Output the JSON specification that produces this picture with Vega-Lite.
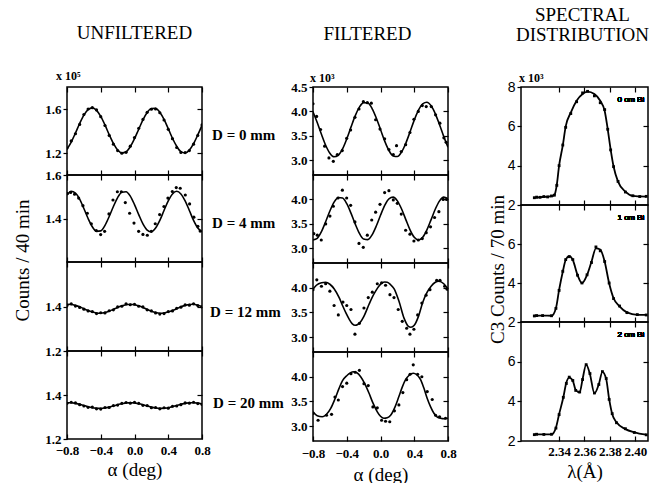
{
"$schema": "https://vega.github.io/schema/vega-lite/v6.json",
"padding": {"left": 13, "top": 5, "right": 2, "bottom": 0},
"background": "white",
"config": {
 "view": {"stroke": "black", "strokeWidth": 1.5},
 "font": "Liberation Serif",
 "axis": {"domain": false, "grid": false, "tickColor": "black", "tickWidth": 1.2, "labelColor": "black", "labelFont": "Liberation Serif", "labelFontWeight": "bold", "labelFontSize": 13, "titleFont": "Liberation Serif", "titleFontWeight": "normal", "titleColor": "black", "titleFontSize": 19, "labelFlush": false, "labelOverlap": false, "labelPadding": 2},
 "title": {"font": "Liberation Serif", "fontWeight": "normal", "fontSize": 19, "color": "black", "lineHeight": 20}
},
"datasets": {
 "L1": [{"a":-0.8,"v":1.235,"d":1.245},{"a":-0.75,"v":1.299,"d":1.31},{"a":-0.7,"v":1.381,"d":1.375},{"a":-0.65,"v":1.468,"d":1.46},{"a":-0.6,"v":1.544,"d":1.55},{"a":-0.55,"v":1.594,"d":1.6},{"a":-0.5,"v":1.61,"d":1.612},{"a":-0.45,"v":1.588,"d":1.592},{"a":-0.4,"v":1.533,"d":1.53},{"a":-0.35,"v":1.455,"d":1.45},{"a":-0.3,"v":1.367,"d":1.36},{"a":-0.25,"v":1.287,"d":1.28},{"a":-0.2,"v":1.227,"d":1.222},{"a":-0.15,"v":1.201,"d":1.198},{"a":-0.1,"v":1.211,"d":1.206},{"a":-0.05,"v":1.257,"d":1.262},{"a":0,"v":1.33,"d":1.34},{"a":0.05,"v":1.416,"d":1.425},{"a":0.1,"v":1.501,"d":1.505},{"a":0.15,"v":1.568,"d":1.57},{"a":0.2,"v":1.605,"d":1.598},{"a":0.25,"v":1.606,"d":1.6},{"a":0.3,"v":1.571,"d":1.566},{"a":0.35,"v":1.505,"d":1.5},{"a":0.4,"v":1.421,"d":1.415},{"a":0.45,"v":1.334,"d":1.33},{"a":0.5,"v":1.261,"d":1.25},{"a":0.55,"v":1.212,"d":1.205},{"a":0.6,"v":1.2,"d":1.204},{"a":0.65,"v":1.226,"d":1.222},{"a":0.7,"v":1.285,"d":1.28},{"a":0.75,"v":1.364,"d":1.36},{"a":0.8,"v":1.451,"d":1.455}],
 "L2c": [{"a":-0.8,"v":1.508},{"a":-0.75,"v":1.525},{"a":-0.7,"v":1.517},{"a":-0.65,"v":1.489},{"a":-0.6,"v":1.446},{"a":-0.55,"v":1.4},{"a":-0.5,"v":1.362},{"a":-0.45,"v":1.341},{"a":-0.4,"v":1.343},{"a":-0.35,"v":1.368},{"a":-0.3,"v":1.409},{"a":-0.25,"v":1.455},{"a":-0.2,"v":1.496},{"a":-0.15,"v":1.521},{"a":-0.1,"v":1.523},{"a":-0.05,"v":1.503},{"a":0,"v":1.464},{"a":0.05,"v":1.418},{"a":0.1,"v":1.375},{"a":0.15,"v":1.347},{"a":0.2,"v":1.339},{"a":0.25,"v":1.356},{"a":0.3,"v":1.391},{"a":0.35,"v":1.437},{"a":0.4,"v":1.481},{"a":0.45,"v":1.513},{"a":0.5,"v":1.525},{"a":0.55,"v":1.513},{"a":0.6,"v":1.481},{"a":0.65,"v":1.437},{"a":0.7,"v":1.391},{"a":0.75,"v":1.356},{"a":0.8,"v":1.339}],
 "L2p": [{"a":-0.795,"d":1.515},{"a":-0.757,"d":1.52},{"a":-0.71,"d":1.512},{"a":-0.662,"d":1.494},{"a":-0.611,"d":1.459},{"a":-0.559,"d":1.424},{"a":-0.512,"d":1.376},{"a":-0.453,"d":1.345},{"a":-0.401,"d":1.326},{"a":-0.354,"d":1.341},{"a":-0.303,"d":1.421},{"a":-0.255,"d":1.485},{"a":-0.203,"d":1.523},{"a":-0.156,"d":1.523},{"a":-0.109,"d":1.473},{"a":-0.058,"d":1.424},{"a":-0.006,"d":1.379},{"a":0.049,"d":1.341},{"a":0.1,"d":1.327},{"a":0.152,"d":1.323},{"a":0.199,"d":1.341},{"a":0.246,"d":1.376},{"a":0.298,"d":1.418},{"a":0.349,"d":1.455},{"a":0.396,"d":1.494},{"a":0.448,"d":1.524},{"a":0.495,"d":1.542},{"a":0.542,"d":1.539},{"a":0.602,"d":1.508},{"a":0.653,"d":1.467},{"a":0.704,"d":1.406},{"a":0.751,"d":1.364},{"a":0.778,"d":1.342}],
 "L3": [{"a":-0.8,"v":1.41,"d":1.405},{"a":-0.75,"v":1.409,"d":1.412},{"a":-0.7,"v":1.405,"d":1.402},{"a":-0.65,"v":1.399,"d":1.396},{"a":-0.6,"v":1.39,"d":1.388},{"a":-0.55,"v":1.382,"d":1.38},{"a":-0.5,"v":1.375,"d":1.377},{"a":-0.45,"v":1.371,"d":1.368},{"a":-0.4,"v":1.37,"d":1.372},{"a":-0.35,"v":1.373,"d":1.371},{"a":-0.3,"v":1.379,"d":1.381},{"a":-0.25,"v":1.387,"d":1.385},{"a":-0.2,"v":1.396,"d":1.398},{"a":-0.15,"v":1.403,"d":1.401},{"a":-0.1,"v":1.408,"d":1.412},{"a":-0.05,"v":1.41,"d":1.408},{"a":0,"v":1.408,"d":1.41},{"a":0.05,"v":1.403,"d":1.401},{"a":0.1,"v":1.396,"d":1.398},{"a":0.15,"v":1.387,"d":1.385},{"a":0.2,"v":1.379,"d":1.38},{"a":0.25,"v":1.373,"d":1.371},{"a":0.3,"v":1.37,"d":1.366},{"a":0.35,"v":1.371,"d":1.368},{"a":0.4,"v":1.375,"d":1.377},{"a":0.45,"v":1.382,"d":1.38},{"a":0.5,"v":1.39,"d":1.392},{"a":0.55,"v":1.399,"d":1.397},{"a":0.6,"v":1.405,"d":1.407},{"a":0.65,"v":1.409,"d":1.406},{"a":0.7,"v":1.41,"d":1.412},{"a":0.75,"v":1.406,"d":1.404},{"a":0.8,"v":1.4,"d":1.398}],
 "L4": [{"a":-0.8,"v":1.365,"d":1.362},{"a":-0.75,"v":1.365,"d":1.367},{"a":-0.7,"v":1.362,"d":1.364},{"a":-0.65,"v":1.358,"d":1.356},{"a":-0.6,"v":1.352,"d":1.35},{"a":-0.55,"v":1.347,"d":1.344},{"a":-0.5,"v":1.342,"d":1.345},{"a":-0.45,"v":1.34,"d":1.337},{"a":-0.4,"v":1.339,"d":1.336},{"a":-0.35,"v":1.341,"d":1.343},{"a":-0.3,"v":1.345,"d":1.343},{"a":-0.25,"v":1.35,"d":1.352},{"a":-0.2,"v":1.356,"d":1.354},{"a":-0.15,"v":1.36,"d":1.362},{"a":-0.1,"v":1.364,"d":1.366},{"a":-0.05,"v":1.365,"d":1.363},{"a":0,"v":1.364,"d":1.367},{"a":0.05,"v":1.36,"d":1.362},{"a":0.1,"v":1.356,"d":1.353},{"a":0.15,"v":1.35,"d":1.352},{"a":0.2,"v":1.345,"d":1.342},{"a":0.25,"v":1.341,"d":1.343},{"a":0.3,"v":1.339,"d":1.337},{"a":0.35,"v":1.34,"d":1.342},{"a":0.4,"v":1.342,"d":1.34},{"a":0.45,"v":1.347,"d":1.349},{"a":0.5,"v":1.352,"d":1.35},{"a":0.55,"v":1.358,"d":1.356},{"a":0.6,"v":1.362,"d":1.364},{"a":0.65,"v":1.365,"d":1.363},{"a":0.7,"v":1.365,"d":1.367},{"a":0.75,"v":1.363,"d":1.361},{"a":0.8,"v":1.359,"d":1.357}],
 "M1c": [{"a":-0.8,"v":3.99},{"a":-0.75,"v":3.775},{"a":-0.7,"v":3.533},{"a":-0.65,"v":3.309},{"a":-0.6,"v":3.145},{"a":-0.55,"v":3.072},{"a":-0.5,"v":3.104},{"a":-0.45,"v":3.234},{"a":-0.4,"v":3.438},{"a":-0.35,"v":3.679},{"a":-0.3,"v":3.91},{"a":-0.25,"v":4.089},{"a":-0.2,"v":4.181},{"a":-0.15,"v":4.171},{"a":-0.1,"v":4.059},{"a":-0.05,"v":3.867},{"a":0,"v":3.63},{"a":0.05,"v":3.393},{"a":0.1,"v":3.201},{"a":0.15,"v":3.089},{"a":0.2,"v":3.078},{"a":0.25,"v":3.171},{"a":0.3,"v":3.35},{"a":0.35,"v":3.581},{"a":0.4,"v":3.822},{"a":0.45,"v":4.026},{"a":0.5,"v":4.156},{"a":0.55,"v":4.188},{"a":0.6,"v":4.115},{"a":0.65,"v":3.951},{"a":0.7,"v":3.727},{"a":0.75,"v":3.485},{"a":0.8,"v":3.27}],
 "M1p": [{"a":-0.8,"d":4.157},{"a":-0.757,"d":3.898},{"a":-0.71,"d":3.63},{"a":-0.662,"d":3.29},{"a":-0.611,"d":3.05},{"a":-0.559,"d":2.98},{"a":-0.512,"d":3.12},{"a":-0.453,"d":3.2},{"a":-0.401,"d":3.45},{"a":-0.354,"d":3.62},{"a":-0.303,"d":3.88},{"a":-0.255,"d":4.05},{"a":-0.203,"d":4.2},{"a":-0.156,"d":4.18},{"a":-0.109,"d":4.17},{"a":-0.058,"d":3.83},{"a":-0.006,"d":3.64},{"a":0.049,"d":3.44},{"a":0.1,"d":3.22},{"a":0.152,"d":3.12},{"a":0.19,"d":3.3},{"a":0.246,"d":3.18},{"a":0.298,"d":3.32},{"a":0.349,"d":3.57},{"a":0.396,"d":3.84},{"a":0.448,"d":4.0},{"a":0.495,"d":4.12},{"a":0.542,"d":4.1},{"a":0.602,"d":4.1},{"a":0.653,"d":3.93},{"a":0.704,"d":3.76},{"a":0.751,"d":3.46},{"a":0.778,"d":3.37}],
 "M2c": [{"a":-0.8,"v":3.172},{"a":-0.75,"v":3.206},{"a":-0.7,"v":3.341},{"a":-0.65,"v":3.544},{"a":-0.6,"v":3.763},{"a":-0.55,"v":3.944},{"a":-0.5,"v":4.041},{"a":-0.45,"v":4.03},{"a":-0.4,"v":3.913},{"a":-0.35,"v":3.72},{"a":-0.3,"v":3.5},{"a":-0.25,"v":3.307},{"a":-0.2,"v":3.191},{"a":-0.15,"v":3.179},{"a":-0.1,"v":3.276},{"a":-0.05,"v":3.457},{"a":0,"v":3.676},{"a":0.05,"v":3.879},{"a":0.1,"v":4.014},{"a":0.15,"v":4.048},{"a":0.2,"v":3.971},{"a":0.25,"v":3.804},{"a":0.3,"v":3.588},{"a":0.35,"v":3.377},{"a":0.4,"v":3.225},{"a":0.45,"v":3.17},{"a":0.5,"v":3.225},{"a":0.55,"v":3.377},{"a":0.6,"v":3.588},{"a":0.65,"v":3.804},{"a":0.7,"v":3.971},{"a":0.75,"v":4.048},{"a":0.8,"v":4.014}],
 "M2p": [{"a":-0.79,"d":3.3},{"a":-0.749,"d":3.27},{"a":-0.702,"d":3.17},{"a":-0.65,"d":3.5},{"a":-0.599,"d":3.66},{"a":-0.559,"d":3.86},{"a":-0.504,"d":4.03},{"a":-0.452,"d":4.19},{"a":-0.401,"d":4.03},{"a":-0.354,"d":3.88},{"a":-0.303,"d":3.54},{"a":-0.255,"d":3.1},{"a":-0.204,"d":3.02},{"a":-0.156,"d":3.27},{"a":-0.104,"d":3.58},{"a":-0.058,"d":3.74},{"a":-0.006,"d":3.9},{"a":0.049,"d":4.14},{"a":0.1,"d":4.18},{"a":0.152,"d":3.99},{"a":0.199,"d":3.92},{"a":0.246,"d":3.7},{"a":0.298,"d":3.37},{"a":0.349,"d":3.29},{"a":0.396,"d":3.15},{"a":0.448,"d":3.17},{"a":0.495,"d":3.2},{"a":0.542,"d":3.32},{"a":0.593,"d":3.44},{"a":0.641,"d":3.63},{"a":0.692,"d":3.75},{"a":0.743,"d":4.0},{"a":0.783,"d":4.0}],
 "M3c": [{"a":-0.8,"v":3.97},{"a":-0.76,"v":4.05},{"a":-0.7,"v":4.1},{"a":-0.65,"v":4.11},{"a":-0.6,"v":4.07},{"a":-0.55,"v":3.98},{"a":-0.49,"v":3.8},{"a":-0.45,"v":3.64},{"a":-0.41,"v":3.49},{"a":-0.37,"v":3.36},{"a":-0.334,"v":3.27},{"a":-0.3,"v":3.24},{"a":-0.275,"v":3.25},{"a":-0.24,"v":3.3},{"a":-0.2,"v":3.41},{"a":-0.137,"v":3.66},{"a":-0.1,"v":3.8},{"a":-0.058,"v":3.93},{"a":-0.02,"v":4.03},{"a":0.021,"v":4.1},{"a":0.05,"v":4.115},{"a":0.08,"v":4.11},{"a":0.12,"v":4.06},{"a":0.16,"v":3.98},{"a":0.22,"v":3.72},{"a":0.28,"v":3.38},{"a":0.33,"v":3.22},{"a":0.36,"v":3.2},{"a":0.4,"v":3.24},{"a":0.45,"v":3.42},{"a":0.5,"v":3.7},{"a":0.55,"v":3.9},{"a":0.6,"v":4.03},{"a":0.65,"v":4.11},{"a":0.69,"v":4.13},{"a":0.75,"v":4.08},{"a":0.8,"v":3.97}],
 "M3p": [{"a":-0.8,"d":3.96},{"a":-0.755,"d":4.16},{"a":-0.7,"d":4.03},{"a":-0.65,"d":4.08},{"a":-0.6,"d":3.93},{"a":-0.55,"d":3.64},{"a":-0.5,"d":3.45},{"a":-0.445,"d":3.71},{"a":-0.4,"d":3.64},{"a":-0.35,"d":3.56},{"a":-0.303,"d":3.06},{"a":-0.25,"d":3.28},{"a":-0.196,"d":3.59},{"a":-0.145,"d":3.8},{"a":-0.097,"d":3.91},{"a":-0.038,"d":4.08},{"a":0.013,"d":4.1},{"a":0.06,"d":4.05},{"a":0.112,"d":3.86},{"a":0.16,"d":3.8},{"a":0.21,"d":3.56},{"a":0.258,"d":3.32},{"a":0.31,"d":3.18},{"a":0.349,"d":3.06},{"a":0.396,"d":3.16},{"a":0.44,"d":3.45},{"a":0.49,"d":3.69},{"a":0.54,"d":3.85},{"a":0.586,"d":3.96},{"a":0.666,"d":4.15},{"a":0.705,"d":4.15},{"a":0.76,"d":4.03},{"a":0.79,"d":3.97}],
 "M4c": [{"a":-0.8,"v":3.29},{"a":-0.75,"v":3.21},{"a":-0.69,"v":3.19},{"a":-0.64,"v":3.24},{"a":-0.59,"v":3.36},{"a":-0.54,"v":3.55},{"a":-0.49,"v":3.77},{"a":-0.45,"v":3.92},{"a":-0.4,"v":4.02},{"a":-0.32,"v":4.1},{"a":-0.28,"v":4.08},{"a":-0.235,"v":4.0},{"a":-0.19,"v":3.87},{"a":-0.137,"v":3.67},{"a":-0.09,"v":3.47},{"a":-0.038,"v":3.29},{"a":0,"v":3.2},{"a":0.04,"v":3.16},{"a":0.08,"v":3.17},{"a":0.12,"v":3.22},{"a":0.17,"v":3.38},{"a":0.218,"v":3.6},{"a":0.26,"v":3.8},{"a":0.297,"v":3.94},{"a":0.34,"v":4.03},{"a":0.388,"v":4.07},{"a":0.43,"v":4.04},{"a":0.475,"v":3.94},{"a":0.514,"v":3.77},{"a":0.554,"v":3.56},{"a":0.594,"v":3.39},{"a":0.633,"v":3.26},{"a":0.67,"v":3.19},{"a":0.71,"v":3.16},{"a":0.76,"v":3.15},{"a":0.8,"v":3.16}],
 "M4p": [{"a":-0.8,"d":3.26},{"a":-0.74,"d":3.12},{"a":-0.64,"d":3.22},{"a":-0.58,"d":3.24},{"a":-0.54,"d":3.59},{"a":-0.5,"d":3.53},{"a":-0.45,"d":3.8},{"a":-0.4,"d":3.87},{"a":-0.35,"d":4.06},{"a":-0.3,"d":4.09},{"a":-0.25,"d":4.13},{"a":-0.196,"d":3.86},{"a":-0.145,"d":3.82},{"a":-0.09,"d":3.39},{"a":-0.038,"d":3.37},{"a":0.013,"d":3.12},{"a":0.06,"d":3.1},{"a":0.11,"d":3.09},{"a":0.165,"d":3.31},{"a":0.218,"d":3.43},{"a":0.265,"d":3.68},{"a":0.31,"d":3.94},{"a":0.35,"d":4.05},{"a":0.388,"d":4.24},{"a":0.44,"d":4.05},{"a":0.49,"d":4.0},{"a":0.554,"d":3.7},{"a":0.613,"d":3.54},{"a":0.653,"d":3.22},{"a":0.7,"d":3.19},{"a":0.77,"d":3.16}],
 "R1": [{"l":2.3205,"v":2.38,"d":2.37},{"l":2.3223,"v":2.38,"d":2.4},{"l":2.325,"v":2.4,"d":2.39},{"l":2.328,"v":2.41,"d":2.43},{"l":2.331,"v":2.42,"d":2.41},{"l":2.334,"v":2.45,"d":2.46},{"l":2.3363,"v":2.51,"d":2.5},{"l":2.3382,"v":3.03,"d":3.0},{"l":2.34,"v":4.0,"d":4.0},{"l":2.3429,"v":5.03,"d":5.05},{"l":2.3452,"v":6.0,"d":5.95},{"l":2.3492,"v":6.7,"d":6.65},{"l":2.3538,"v":7.3,"d":7.25},{"l":2.3585,"v":7.64,"d":7.7},{"l":2.3624,"v":7.76,"d":7.78},{"l":2.3678,"v":7.64,"d":7.55},{"l":2.3724,"v":7.3,"d":7.2},{"l":2.3759,"v":6.78,"d":6.85},{"l":2.3783,"v":5.85,"d":5.85},{"l":2.3806,"v":4.82,"d":4.8},{"l":2.3829,"v":3.96,"d":3.95},{"l":2.3864,"v":3.19,"d":3.2},{"l":2.3922,"v":2.68,"d":2.66},{"l":2.3981,"v":2.46,"d":2.47},{"l":2.4035,"v":2.44,"d":2.43},{"l":2.4086,"v":2.43,"d":2.44}],
 "R2": [{"l":2.3205,"v":2.32,"d":2.31},{"l":2.3223,"v":2.32,"d":2.33},{"l":2.327,"v":2.33,"d":2.33},{"l":2.334,"v":2.32,"d":2.32},{"l":2.3375,"v":2.71,"d":2.7},{"l":2.34,"v":3.65,"d":3.62},{"l":2.3429,"v":4.58,"d":4.6},{"l":2.3452,"v":5.18,"d":5.2},{"l":2.348,"v":5.38,"d":5.35},{"l":2.3508,"v":5.18,"d":5.2},{"l":2.3545,"v":4.41,"d":4.4},{"l":2.358,"v":3.99,"d":4.0},{"l":2.362,"v":4.41,"d":4.42},{"l":2.3655,"v":5.09,"d":5.05},{"l":2.369,"v":5.78,"d":5.85},{"l":2.3724,"v":5.72,"d":5.65},{"l":2.3759,"v":5.09,"d":5.1},{"l":2.3794,"v":3.99,"d":4.0},{"l":2.3829,"v":3.22,"d":3.2},{"l":2.3876,"v":2.8,"d":2.82},{"l":2.3934,"v":2.49,"d":2.48},{"l":2.4016,"v":2.37,"d":2.38},{"l":2.4086,"v":2.37,"d":2.36}],
 "R3": [{"l":2.3205,"v":2.33,"d":2.32},{"l":2.3223,"v":2.33,"d":2.34},{"l":2.328,"v":2.33,"d":2.33},{"l":2.334,"v":2.33,"d":2.34},{"l":2.3375,"v":2.67,"d":2.65},{"l":2.34,"v":3.35,"d":3.33},{"l":2.3433,"v":4.19,"d":4.2},{"l":2.3457,"v":4.95,"d":4.9},{"l":2.348,"v":5.2,"d":5.22},{"l":2.3508,"v":5.04,"d":5.05},{"l":2.3531,"v":4.57,"d":4.55},{"l":2.3562,"v":4.45,"d":4.47},{"l":2.3585,"v":5.12,"d":5.1},{"l":2.3613,"v":5.85,"d":5.85},{"l":2.3643,"v":5.37,"d":5.4},{"l":2.3678,"v":4.4,"d":4.42},{"l":2.3713,"v":4.87,"d":4.85},{"l":2.3741,"v":5.49,"d":5.5},{"l":2.3771,"v":5.12,"d":5.15},{"l":2.3794,"v":4.12,"d":4.1},{"l":2.3818,"v":3.36,"d":3.38},{"l":2.3852,"v":2.94,"d":2.92},{"l":2.3922,"v":2.6,"d":2.62},{"l":2.3992,"v":2.44,"d":2.43},{"l":2.4086,"v":2.32,"d":2.31}]
},
"hconcat": [
 {"spacing": 6, "hconcat": [
  {"title": {"text": "UNFILTERED", "offset": 27, "anchor": "middle", "dx": -14},
   "spacing": 0, "bounds": "flush",
   "vconcat": [
      {"width": 135, "height": 88,
       "title": {"text": "x 10⁵", "anchor": "start", "frame": "group", "dx": -11, "offset": 3, "fontSize": 12, "fontWeight": "bold"},
       "data": {"name": "L1"},
       "layer": [
        {"mark": {"type": "circle", "size": 10, "color": "black", "opacity": 1, "clip": true},
         "encoding": {"x": {"field": "a", "type": "quantitative", "scale": {"domain": [-0.8, 0.8]}, "axis": {"orient": "bottom", "values": [-0.8, -0.4, 0, 0.4, 0.8], "labels": false, "tickSize": -5, "title": null}},
                      "y": {"field": "d", "type": "quantitative", "scale": {"domain": [1.0, 1.8]}, "axis": {"orient": "left", "values": [1.2, 1.6], "format": ".1f", "tickSize": 4, "title": null}}}},
        {"mark": {"type": "line", "color": "black", "strokeWidth": 1.6, "interpolate": "monotone", "clip": true},
         "encoding": {"x": {"field": "a", "type": "quantitative", "scale": {"domain": [-0.8, 0.8]}, "axis": {"orient": "top", "values": [-0.8, -0.4, 0, 0.4, 0.8], "labels": false, "tickSize": -5, "title": null}},
                      "y": {"field": "v", "type": "quantitative", "scale": {"domain": [1.0, 1.8]}, "axis": {"orient": "right", "values": [1.2, 1.6], "labels": false, "tickSize": -5, "title": "D = 0 mm", "titleAngle": 0, "titleAlign": "left", "titleBaseline": "middle", "titlePadding": 9, "titleFontSize": 15, "titleFontWeight": "bold", "titleY": 47}}}}
       ],
       "resolve": {"axis": {"x": "independent", "y": "independent"}}},
      {"width": 135, "height": 87,
       "layer": [
        {"data": {"name": "L2p"}, "mark": {"type": "circle", "size": 10, "color": "black", "opacity": 1, "clip": true},
         "encoding": {"x": {"field": "a", "type": "quantitative", "scale": {"domain": [-0.8, 0.8]}, "axis": {"orient": "bottom", "values": [-0.8, -0.4, 0, 0.4, 0.8], "labels": false, "tickSize": -5, "title": null}},
                      "y": {"field": "d", "type": "quantitative", "scale": {"domain": [1.2, 1.6]}, "axis": {"orient": "left", "values": [1.4, 1.6], "format": ".1f", "tickSize": 4, "title": "Counts / 40 min", "titleY": 85, "titlePadding": 12}}}},
        {"data": {"name": "L2c"}, "mark": {"type": "line", "color": "black", "strokeWidth": 1.6, "interpolate": "monotone", "clip": true},
         "encoding": {"x": {"field": "a", "type": "quantitative", "scale": {"domain": [-0.8, 0.8]}, "axis": {"orient": "top", "values": [-0.8, -0.4, 0, 0.4, 0.8], "labels": false, "tickSize": -5, "title": null}},
                      "y": {"field": "v", "type": "quantitative", "scale": {"domain": [1.2, 1.6]}, "axis": {"orient": "right", "values": [1.4], "labels": false, "tickSize": -5, "title": "D = 4 mm", "titleAngle": 0, "titleAlign": "left", "titleBaseline": "middle", "titlePadding": 9, "titleFontSize": 15, "titleFontWeight": "bold", "titleY": 47}}}}
       ],
       "resolve": {"axis": {"x": "independent", "y": "independent"}}},
      {"width": 135, "height": 89,
       "data": {"name": "L3"},
       "layer": [
        {"mark": {"type": "circle", "size": 10, "color": "black", "opacity": 1, "clip": true},
         "encoding": {"x": {"field": "a", "type": "quantitative", "scale": {"domain": [-0.8, 0.8]}, "axis": {"orient": "bottom", "values": [-0.8, -0.4, 0, 0.4, 0.8], "labels": false, "tickSize": -5, "title": null}},
                      "y": {"field": "d", "type": "quantitative", "scale": {"domain": [1.2, 1.6]}, "axis": {"orient": "left", "values": [1.2, 1.4], "format": ".1f", "tickSize": 4, "title": null}}}},
        {"mark": {"type": "line", "color": "black", "strokeWidth": 1.6, "interpolate": "monotone", "clip": true},
         "encoding": {"x": {"field": "a", "type": "quantitative", "scale": {"domain": [-0.8, 0.8]}, "axis": {"orient": "top", "values": [-0.8, -0.4, 0, 0.4, 0.8], "labels": false, "tickSize": -5, "title": null}},
                      "y": {"field": "v", "type": "quantitative", "scale": {"domain": [1.2, 1.6]}, "axis": {"orient": "right", "values": [1.4], "labels": false, "tickSize": -5, "title": "D = 12 mm", "titleAngle": 0, "titleAlign": "left", "titleBaseline": "middle", "titlePadding": 7, "titleFontSize": 15, "titleFontWeight": "bold", "titleY": 49}}}}
       ],
       "resolve": {"axis": {"x": "independent", "y": "independent"}}},
      {"width": 135, "height": 88,
       "data": {"name": "L4"},
       "layer": [
        {"mark": {"type": "circle", "size": 10, "color": "black", "opacity": 1, "clip": true},
         "encoding": {"x": {"field": "a", "type": "quantitative", "scale": {"domain": [-0.8, 0.8]}, "axis": {"orient": "bottom", "values": [-0.8, -0.4, 0, 0.4, 0.8], "format": ".1f", "tickSize": -5, "labelPadding": 10, "title": "α (deg)", "titlePadding": 3}},
                      "y": {"field": "d", "type": "quantitative", "scale": {"domain": [1.2, 1.6]}, "axis": {"orient": "left", "values": [1.2, 1.4], "format": ".1f", "tickSize": 4, "title": null}}}},
        {"mark": {"type": "line", "color": "black", "strokeWidth": 1.6, "interpolate": "monotone", "clip": true},
         "encoding": {"x": {"field": "a", "type": "quantitative", "scale": {"domain": [-0.8, 0.8]}, "axis": {"orient": "top", "values": [-0.8, -0.4, 0, 0.4, 0.8], "labels": false, "tickSize": -5, "title": null}},
                      "y": {"field": "v", "type": "quantitative", "scale": {"domain": [1.2, 1.6]}, "axis": {"orient": "right", "values": [1.4], "labels": false, "tickSize": -5, "title": "D = 20 mm", "titleAngle": 0, "titleAlign": "left", "titleBaseline": "middle", "titlePadding": 10, "titleFontSize": 15, "titleFontWeight": "bold", "titleY": 51}}}}
       ],
       "resolve": {"axis": {"x": "independent", "y": "independent"}}}
   ]},
  {"title": {"text": "FILTERED", "offset": 27, "anchor": "middle", "dx": -6},
   "spacing": 0, "bounds": "flush",
   "vconcat": [
    {"width": 135, "height": 88,
     "title": {"text": "x 10³", "anchor": "start", "frame": "group", "dx": -3, "offset": -3.5, "fontSize": 12, "fontWeight": "bold"},
     "layer": [
      {"data": {"name": "M1p"}, "mark": {"type": "circle", "size": 10, "color": "black", "opacity": 1, "clip": true},
       "encoding": {"x": {"field": "a", "type": "quantitative", "scale": {"domain": [-0.8, 0.8]}, "axis": {"orient": "bottom", "values": [-0.8, -0.4, 0, 0.4, 0.8], "labels": false, "tickSize": -5, "title": null}},
                    "y": {"field": "d", "type": "quantitative", "scale": {"domain": [2.7, 4.5]}, "axis": {"orient": "left", "values": [3.0, 3.5, 4.0, 4.5], "format": ".1f", "tickSize": 4, "title": null}}}},
      {"data": {"name": "M1c"}, "mark": {"type": "line", "color": "black", "strokeWidth": 1.6, "interpolate": "monotone", "clip": true},
       "encoding": {"x": {"field": "a", "type": "quantitative", "scale": {"domain": [-0.8, 0.8]}, "axis": {"orient": "top", "values": [-0.8, -0.4, 0, 0.4, 0.8], "labels": false, "tickSize": -5, "title": null}},
                    "y": {"field": "v", "type": "quantitative", "scale": {"domain": [2.7, 4.5]}, "axis": {"orient": "right", "values": [3.0, 3.5, 4.0], "labels": false, "tickSize": -5, "title": null}}}}
     ],
     "resolve": {"axis": {"x": "independent", "y": "independent"}}},
    {"width": 135, "height": 88,
     "layer": [
      {"data": {"name": "M2p"}, "mark": {"type": "circle", "size": 10, "color": "black", "opacity": 1, "clip": true},
       "encoding": {"x": {"field": "a", "type": "quantitative", "scale": {"domain": [-0.8, 0.8]}, "axis": {"orient": "bottom", "values": [-0.8, -0.4, 0, 0.4, 0.8], "labels": false, "tickSize": -5, "title": null}},
                    "y": {"field": "d", "type": "quantitative", "scale": {"domain": [2.7, 4.5]}, "axis": {"orient": "left", "values": [3.0, 3.5, 4.0], "format": ".1f", "tickSize": 4, "title": null}}}},
      {"data": {"name": "M2c"}, "mark": {"type": "line", "color": "black", "strokeWidth": 1.6, "interpolate": "monotone", "clip": true},
       "encoding": {"x": {"field": "a", "type": "quantitative", "scale": {"domain": [-0.8, 0.8]}, "axis": {"orient": "top", "values": [-0.8, -0.4, 0, 0.4, 0.8], "labels": false, "tickSize": -5, "title": null}},
                    "y": {"field": "v", "type": "quantitative", "scale": {"domain": [2.7, 4.5]}, "axis": {"orient": "right", "values": [3.0, 3.5, 4.0], "labels": false, "tickSize": -5, "title": null}}}}
     ],
     "resolve": {"axis": {"x": "independent", "y": "independent"}}},
    {"width": 135, "height": 89,
     "layer": [
      {"data": {"name": "M3p"}, "mark": {"type": "circle", "size": 10, "color": "black", "opacity": 1, "clip": true},
       "encoding": {"x": {"field": "a", "type": "quantitative", "scale": {"domain": [-0.8, 0.8]}, "axis": {"orient": "bottom", "values": [-0.8, -0.4, 0, 0.4, 0.8], "labels": false, "tickSize": -5, "title": null}},
                    "y": {"field": "d", "type": "quantitative", "scale": {"domain": [2.7, 4.5]}, "axis": {"orient": "left", "values": [3.0, 3.5, 4.0], "format": ".1f", "tickSize": 4, "title": null}}}},
      {"data": {"name": "M3c"}, "mark": {"type": "line", "color": "black", "strokeWidth": 1.6, "interpolate": "monotone", "clip": true},
       "encoding": {"x": {"field": "a", "type": "quantitative", "scale": {"domain": [-0.8, 0.8]}, "axis": {"orient": "top", "values": [-0.8, -0.4, 0, 0.4, 0.8], "labels": false, "tickSize": -5, "title": null}},
                    "y": {"field": "v", "type": "quantitative", "scale": {"domain": [2.7, 4.5]}, "axis": {"orient": "right", "values": [3.0, 3.5, 4.0], "labels": false, "tickSize": -5, "title": null}}}}
     ],
     "resolve": {"axis": {"x": "independent", "y": "independent"}}},
    {"width": 135, "height": 89,
     "layer": [
      {"data": {"name": "M4p"}, "mark": {"type": "circle", "size": 10, "color": "black", "opacity": 1, "clip": true},
       "encoding": {"x": {"field": "a", "type": "quantitative", "scale": {"domain": [-0.8, 0.8]}, "axis": {"orient": "bottom", "values": [-0.8, -0.4, 0, 0.4, 0.8], "format": ".1f", "tickSize": -5, "labelPadding": 11, "title": "α (deg)", "titlePadding": 5}},
                    "y": {"field": "d", "type": "quantitative", "scale": {"domain": [2.7, 4.5]}, "axis": {"orient": "left", "values": [3.0, 3.5, 4.0], "format": ".1f", "tickSize": 4, "title": null}}}},
      {"data": {"name": "M4c"}, "mark": {"type": "line", "color": "black", "strokeWidth": 1.6, "interpolate": "monotone", "clip": true},
       "encoding": {"x": {"field": "a", "type": "quantitative", "scale": {"domain": [-0.8, 0.8]}, "axis": {"orient": "top", "values": [-0.8, -0.4, 0, 0.4, 0.8], "labels": false, "tickSize": -5, "title": null}},
                    "y": {"field": "v", "type": "quantitative", "scale": {"domain": [2.7, 4.5]}, "axis": {"orient": "right", "values": [3.0, 3.5, 4.0], "labels": false, "tickSize": -5, "title": null}}}}
     ],
     "resolve": {"axis": {"x": "independent", "y": "independent"}}}
   ]}
 ]},
 {"title": {"text": ["SPECTRAL", "DISTRIBUTION"], "offset": 26, "anchor": "middle", "dx": 14},
  "spacing": 0, "bounds": "flush",
  "vconcat": [
     {"width": 127, "height": 118,
      "title": {"text": "x 10³", "anchor": "start", "frame": "group", "dx": -2, "offset": -4.5, "fontSize": 12, "fontWeight": "bold"},
      "data": {"name": "R1"},
      "layer": [
       {"mark": {"type": "square", "size": 8, "color": "black", "opacity": 1, "clip": true},
        "encoding": {"x": {"field": "l", "type": "quantitative", "scale": {"domain": [2.32, 2.41]}, "axis": {"orient": "bottom", "values": [2.34, 2.36, 2.38, 2.4], "labels": false, "tickSize": -5, "title": null}},
                     "y": {"field": "d", "type": "quantitative", "scale": {"domain": [2, 8]}, "axis": {"orient": "left", "values": [2, 4, 6, 8], "labelFont": "Liberation Sans", "labelFontWeight": "normal", "labelFontSize": 14, "tickSize": 4, "title": null}}}},
       {"mark": {"type": "line", "color": "black", "strokeWidth": 1.8, "interpolate": "monotone", "clip": true},
        "encoding": {"x": {"field": "l", "type": "quantitative", "scale": {"domain": [2.32, 2.41]}, "axis": {"orient": "top", "values": [2.34, 2.36, 2.38, 2.4], "labels": false, "tickSize": -5, "title": null}},
                     "y": {"field": "v", "type": "quantitative", "scale": {"domain": [2, 8]}, "axis": {"orient": "right", "values": [4, 6], "labels": false, "tickSize": -5, "title": null}}}},
       {"mark": {"type": "text", "align": "right", "baseline": "middle", "font": "Liberation Sans", "fontWeight": "normal", "fontSize": 8, "color": "black"},
        "encoding": {"x": {"datum": 2.407, "type": "quantitative", "axis": null}, "y": {"datum": 7.35, "type": "quantitative", "axis": null}, "text": {"value": "0 cm Bi"}}}
      ],
      "resolve": {"axis": {"x": "independent", "y": "independent"}}},
     {"width": 127, "height": 117,
      "data": {"name": "R2"},
      "layer": [
       {"mark": {"type": "square", "size": 8, "color": "black", "opacity": 1, "clip": true},
        "encoding": {"x": {"field": "l", "type": "quantitative", "scale": {"domain": [2.32, 2.41]}, "axis": {"orient": "bottom", "values": [2.34, 2.36, 2.38, 2.4], "labels": false, "tickSize": -5, "title": null}},
                     "y": {"field": "d", "type": "quantitative", "scale": {"domain": [2, 8]}, "axis": {"orient": "left", "values": [2, 4, 6], "labelFont": "Liberation Sans", "labelFontWeight": "normal", "labelFontSize": 14, "tickSize": 4, "title": "C3 Counts / 70 min", "titleY": 64, "titlePadding": 0}}}},
       {"mark": {"type": "line", "color": "black", "strokeWidth": 1.8, "interpolate": "monotone", "clip": true},
        "encoding": {"x": {"field": "l", "type": "quantitative", "scale": {"domain": [2.32, 2.41]}, "axis": {"orient": "top", "values": [2.34, 2.36, 2.38, 2.4], "labels": false, "tickSize": -5, "title": null}},
                     "y": {"field": "v", "type": "quantitative", "scale": {"domain": [2, 8]}, "axis": {"orient": "right", "values": [4, 6], "labels": false, "tickSize": -5, "title": null}}}},
       {"mark": {"type": "text", "align": "right", "baseline": "middle", "font": "Liberation Sans", "fontWeight": "normal", "fontSize": 8, "color": "black"},
        "encoding": {"x": {"datum": 2.407, "type": "quantitative", "axis": null}, "y": {"datum": 7.35, "type": "quantitative", "axis": null}, "text": {"value": "1 cm Bi"}}}
      ],
      "resolve": {"axis": {"x": "independent", "y": "independent"}}},
     {"width": 127, "height": 119,
      "data": {"name": "R3"},
      "layer": [
       {"mark": {"type": "square", "size": 8, "color": "black", "opacity": 1, "clip": true},
        "encoding": {"x": {"field": "l", "type": "quantitative", "scale": {"domain": [2.32, 2.41]}, "axis": {"orient": "bottom", "values": [2.34, 2.36, 2.38, 2.4], "format": ".2f", "tickSize": -5, "labelPadding": 9.5, "title": "λ(Å)", "titlePadding": 4}},
                     "y": {"field": "d", "type": "quantitative", "scale": {"domain": [2, 8]}, "axis": {"orient": "left", "values": [2, 4, 6], "labelFont": "Liberation Sans", "labelFontWeight": "normal", "labelFontSize": 14, "tickSize": 4, "title": null}}}},
       {"mark": {"type": "line", "color": "black", "strokeWidth": 1.8, "interpolate": "monotone", "clip": true},
        "encoding": {"x": {"field": "l", "type": "quantitative", "scale": {"domain": [2.32, 2.41]}, "axis": {"orient": "top", "values": [2.34, 2.36, 2.38, 2.4], "labels": false, "tickSize": -5, "title": null}},
                     "y": {"field": "v", "type": "quantitative", "scale": {"domain": [2, 8]}, "axis": {"orient": "right", "values": [4, 6], "labels": false, "tickSize": -5, "title": null}}}},
       {"mark": {"type": "text", "align": "right", "baseline": "middle", "font": "Liberation Sans", "fontWeight": "normal", "fontSize": 8, "color": "black"},
        "encoding": {"x": {"datum": 2.407, "type": "quantitative", "axis": null}, "y": {"datum": 7.35, "type": "quantitative", "axis": null}, "text": {"value": "2 cm Bi"}}}
      ],
      "resolve": {"axis": {"x": "independent", "y": "independent"}}}
  ]}
],
"spacing": 30
}
